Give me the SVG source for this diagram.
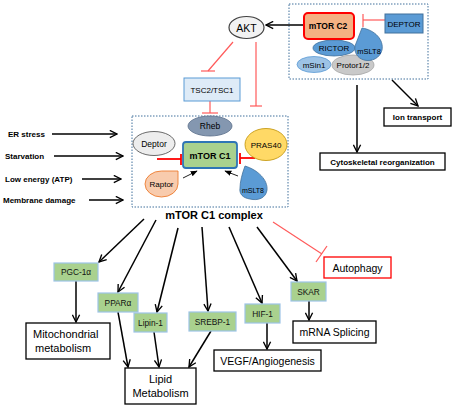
<svg xmlns="http://www.w3.org/2000/svg" width="456" height="408" viewBox="0 0 456 408">
<defs>
<marker id="ah" viewBox="0 0 10 10" refX="9" refY="5" markerWidth="9" markerHeight="9" markerUnits="userSpaceOnUse" orient="auto">
<path d="M1,1 L9,5 L1,9" fill="none" stroke="#000" stroke-width="1.5"/>
</marker>
<marker id="ahs" viewBox="0 0 10 10" refX="9" refY="5" markerWidth="7" markerHeight="7" markerUnits="userSpaceOnUse" orient="auto">
<path d="M0,1 L10,5 L0,9 Z" fill="#000"/>
</marker>
</defs>
<style>
text{font-family:"Liberation Sans",Arial,sans-serif;text-anchor:middle;fill:#000}
.b{font-weight:bold}
.dash{fill:#fff;stroke:#41719c;stroke-width:1;stroke-dasharray:1.5 1.5}
.arr{stroke:#000;stroke-width:1.5;fill:none;marker-end:url(#ah)}
.inh{stroke:#ff5a5a;stroke-width:1.2;fill:none}
.inh2{stroke:#ff0000;stroke-width:1.8;fill:none}
.grn{fill:#a9d18e;stroke:#9dc3e6;stroke-width:1.2}
.out{fill:#fff;stroke:#000;stroke-width:1.3}
.s8{font-size:8px}
.g8{font-size:8.3px;fill:#111}
.s11{font-size:11px}
</style>

<!-- containers -->
<g id="mtorc2-complex">
<rect class="dash" x="289" y="4" width="139" height="75"/>
</g>
<g id="mtorc1-complex">
<rect class="dash" x="132" y="116" width="156" height="91"/>
<text class="b" x="214" y="219" font-size="11">mTOR C1 complex</text>
</g>

<!-- connectors -->
<g id="connectors">
<line class="arr" x1="304" y1="25" x2="266" y2="25"/>
<line class="inh" x1="385" y1="20" x2="363" y2="20"/>
<line class="inh" x1="363" y1="14" x2="363" y2="27"/>
<line class="inh" x1="233" y1="42" x2="208" y2="71"/>
<line class="inh" x1="201" y1="71" x2="215" y2="71"/>
<line class="inh" x1="256" y1="42" x2="256" y2="106"/>
<line class="inh" x1="250" y1="106" x2="262" y2="106"/>
<line class="inh" x1="210" y1="101" x2="210" y2="113"/>
<line class="inh" x1="202" y1="113" x2="218" y2="113"/>
<line class="inh2" x1="157" y1="159" x2="181" y2="159"/>
<line class="inh2" x1="181" y1="154" x2="181" y2="165"/>
<line class="inh2" x1="255" y1="158" x2="240" y2="158"/>
<line class="inh2" x1="240" y1="153" x2="240" y2="164"/>
<line stroke="#222" stroke-width="1" marker-end="url(#ahs)" x1="183" y1="178" x2="197" y2="171"/>
<line stroke="#222" stroke-width="1" marker-end="url(#ahs)" x1="238" y1="176" x2="225" y2="171"/>
<line class="arr" x1="52" y1="134" x2="117" y2="134"/>
<line class="arr" x1="54" y1="156" x2="123" y2="156"/>
<line class="arr" x1="82" y1="179" x2="121" y2="179"/>
<line class="arr" x1="89" y1="200" x2="123" y2="200"/>
<line class="arr" x1="357" y1="85" x2="357" y2="152"/>
<line class="arr" x1="392" y1="80" x2="418" y2="106"/>
<line class="arr" x1="144" y1="219" x2="99" y2="262"/>
<line class="arr" x1="156" y1="220" x2="118" y2="292"/>
<line class="arr" x1="178" y1="228" x2="157" y2="312"/>
<line class="arr" x1="202" y1="227" x2="208" y2="311"/>
<line class="arr" x1="229" y1="227" x2="262" y2="303"/>
<line class="arr" x1="257" y1="227" x2="297" y2="281"/>
<line class="inh" x1="273" y1="222" x2="322" y2="254"/>
<line class="inh" stroke-width="1.5" x1="316" y1="262" x2="327" y2="246"/>
<line class="arr" x1="76" y1="281" x2="76" y2="322"/>
<line class="arr" x1="118" y1="312" x2="128" y2="367"/>
<line class="arr" x1="154" y1="332" x2="159" y2="367"/>
<line class="arr" x1="211" y1="331" x2="189" y2="367"/>
<line class="arr" x1="267" y1="323" x2="267" y2="349"/>
<line class="arr" x1="309" y1="301" x2="309" y2="320"/>
</g>

<!-- mTOR C2 complex members -->
<g id="rictor">
<ellipse cx="334" cy="48" rx="21" ry="8" fill="#5b9bd5" stroke="#41719c" stroke-width="0.8"/>
<text class="s8" x="334" y="51">RICTOR</text>
</g>
<g id="msin1">
<ellipse cx="314" cy="64.5" rx="17" ry="8" fill="#9dc3e6" stroke="#5b9bd5" stroke-width="0.8"/>
<text class="s8" x="314" y="67.5">mSin1</text>
</g>
<g id="protor">
<ellipse cx="353" cy="65" rx="21" ry="10" fill="#c9c9c9" stroke="#a6a6a6" stroke-width="0.8"/>
<text class="s8" x="353" y="68">Protor1/2</text>
</g>
<g id="mslt8-c2">
<path d="M362,28 C375,30 384,40 382,50 C380,58 372,62 364,60 C357,58 354,52 355,46 Z" fill="#5b9bd5" stroke="#41719c" stroke-width="0.8"/>
<text x="369" y="54" font-size="7.5">mSLT8</text>
</g>
<g id="mtorc2">
<rect x="304" y="13" width="50" height="26" rx="4" fill="#f4b183" stroke="#ff0000" stroke-width="2"/>
<text class="b" x="328" y="29" font-size="8.5">mTOR C2</text>
</g>
<g id="deptor-c2">
<rect x="385" y="14" width="38" height="19" fill="#5b9bd5" stroke="#41719c" stroke-width="1"/>
<text x="404" y="26.5" font-size="8">DEPTOR</text>
</g>
<g id="akt">
<ellipse cx="246.5" cy="27.5" rx="17.5" ry="11" fill="#f2f2f2" stroke="#404040" stroke-width="1.2"/>
<text x="246.5" y="31.5" font-size="10.5">AKT</text>
</g>
<g id="tsc">
<rect x="184" y="78" width="56" height="23" fill="#deebf7" stroke="#5b9bd5" stroke-width="1"/>
<text x="212" y="92.5" font-size="8">TSC2/TSC1</text>
</g>
<g id="ion-transport">
<rect class="out" x="384" y="108" width="67" height="18"/>
<text class="b s8" x="417.5" y="120">Ion transport</text>
</g>
<g id="cytoskeletal">
<rect class="out" x="320" y="153" width="125" height="17"/>
<text class="b s8" x="382.5" y="164.5">Cytoskeletal reorganization</text>
</g>

<!-- mTOR C1 complex members -->
<g id="rheb">
<ellipse cx="210" cy="126" rx="22" ry="10" fill="#8497b0" stroke="#5b6f8a" stroke-width="0.8"/>
<text x="210" y="129" font-size="8.5" fill="#222">Rheb</text>
</g>
<g id="deptor-c1">
<ellipse cx="154" cy="143.5" rx="21" ry="12" fill="#ededed" stroke="#595959" stroke-width="0.9"/>
<text x="154" y="146.5" font-size="8.5">Deptor</text>
</g>
<g id="pras40">
<ellipse cx="266" cy="144.5" rx="21" ry="16" fill="#ffd966" stroke="#bf9000" stroke-width="0.8"/>
<text x="266" y="147.5" font-size="8">PRAS40</text>
</g>
<g id="mtorc1">
<rect x="183" y="142" width="54" height="26" rx="3" fill="#a9d18e" stroke="#2e75b6" stroke-width="1.8"/>
<text class="b" x="210" y="158.5" font-size="9">mTOR C1</text>
</g>
<g id="raptor">
<path d="M178,171 L178,184 A16.5,13 0 0 1 161.5,197 A16.5,13 0 0 1 145,184 A16.5,13 0 0 1 161.5,171 Z" fill="#f8cbad" stroke="#ed7d31" stroke-width="0.9"/>
<text x="161.5" y="187" font-size="8">Raptor</text>
</g>
<g id="mslt8-c1">
<path d="M245,166 C258,170 268,180 267,190 C266,198 258,201 250,199 C243,198 239,194 240,188 C240,182 242,174 245,166 Z" fill="#5b9bd5" stroke="#41719c" stroke-width="0.8"/>
<text x="253" y="193" font-size="7">mSLT8</text>
</g>

<!-- stimuli -->
<g id="stimuli">
<text class="b s8" x="8" y="137" style="text-anchor:start">ER stress</text>
<text class="b s8" x="5" y="159" style="text-anchor:start">Starvation</text>
<text class="b s8" x="5" y="182" style="text-anchor:start">Low energy (ATP)</text>
<text class="b s8" x="3" y="203" style="text-anchor:start">Membrane damage</text>
</g>

<!-- effectors -->
<g id="pgc1a">
<rect class="grn" x="54" y="263" width="44" height="18"/>
<text class="g8" x="76" y="275">PGC-1α</text>
</g>
<g id="ppara">
<rect class="grn" x="98" y="293" width="40" height="19"/>
<text class="g8" x="118" y="305.5">PPARα</text>
</g>
<g id="lipin1">
<rect class="grn" x="134" y="313" width="33" height="19"/>
<text class="g8" x="150.5" y="325.5">Lipin-1</text>
</g>
<g id="srebp1">
<rect class="grn" x="189" y="312" width="47" height="19"/>
<text class="g8" x="212.5" y="324.5">SREBP-1</text>
</g>
<g id="hif1">
<rect class="grn" x="245" y="304" width="35" height="19"/>
<text class="g8" x="262.5" y="316.5">HIF-1</text>
</g>
<g id="skar">
<rect class="grn" x="291" y="282" width="35" height="19"/>
<text class="g8" x="308.5" y="294.5">SKAR</text>
</g>
<g id="autophagy">
<rect x="324" y="257" width="67" height="21" fill="#fff" stroke="#ff0000" stroke-width="1.3"/>
<text x="357.5" y="271.5" font-size="10.5">Autophagy</text>
</g>
<g id="mito">
<rect class="out" x="26" y="323" width="84" height="36"/>
<text class="s11" x="33" y="337.5" style="text-anchor:start">Mitochondrial</text>
<text class="s11" x="35" y="352" style="text-anchor:start">metabolism</text>
</g>
<g id="lipid">
<rect class="out" x="125" y="368" width="71" height="36"/>
<text class="s11" x="160.5" y="382.5">Lipid</text>
<text class="s11" x="160.5" y="397">Metabolism</text>
</g>
<g id="vegf">
<rect class="out" x="214" y="350" width="107" height="21"/>
<text x="267.5" y="364.5" font-size="10.5">VEGF/Angiogenesis</text>
</g>
<g id="mrna">
<rect class="out" x="293" y="321" width="83" height="22"/>
<text x="334.5" y="335.5" font-size="10.5">mRNA Splicing</text>
</g>
</svg>
